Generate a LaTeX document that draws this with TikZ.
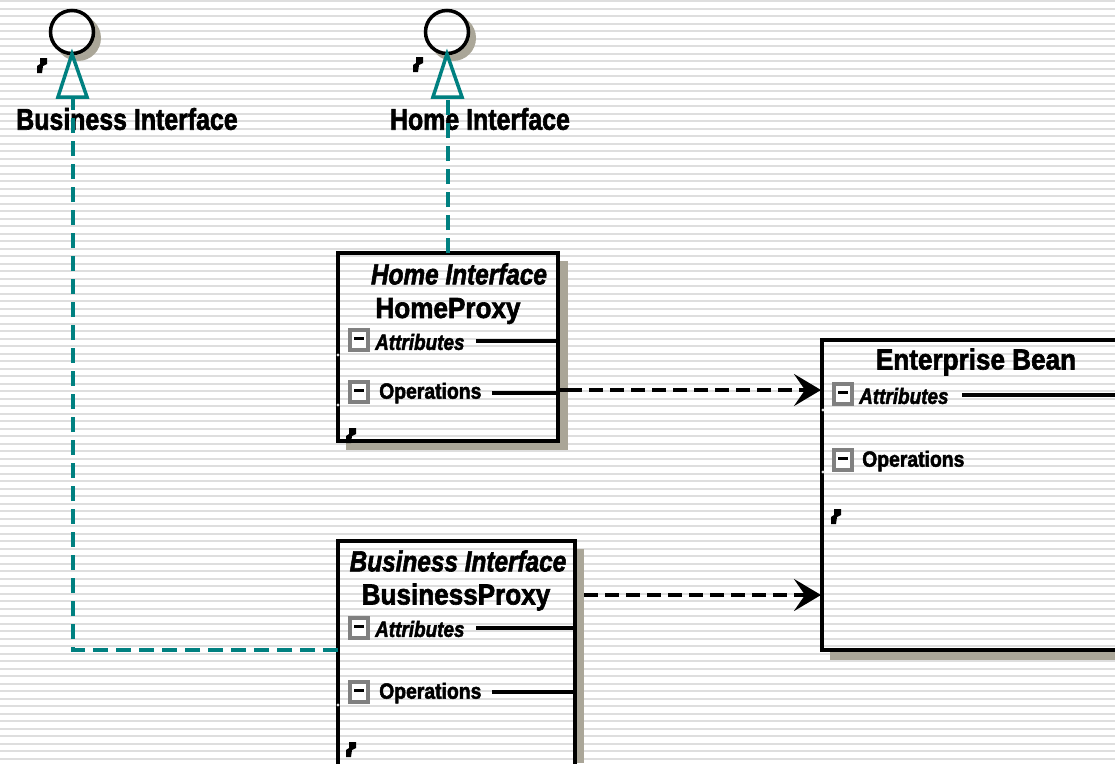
\documentclass[tikz,border=0pt]{standalone}
\usepackage{fontspec}
\setmainfont{Liberation Sans}[BoldFeatures={FakeBold=2.2},BoldItalicFeatures={FakeBold=2.2}]
\usepackage{graphicx}
\usetikzlibrary{arrows.meta}
\definecolor{taupe}{RGB}{170,166,152}
\definecolor{tealc}{RGB}{0,128,128}
\definecolor{icongray}{RGB}{128,128,128}
\definecolor{stripec}{RGB}{222,222,222}
\newcommand\sx[2]{\scalebox{#1}[1]{#2}}
\begin{document}
\begin{tikzpicture}[x=1pt,y=-1pt,
  umlbox/.style={draw=black,line width=3.5pt,inner sep=0pt,outer sep=0pt},
  lbl/.style={inner sep=0pt,font=\fontsize{30}{30}\selectfont\bfseries},
  stereo/.style={inner sep=0pt,font=\fontsize{29}{29}\selectfont\bfseries\itshape},
  ttl/.style={inner sep=0pt,font=\fontsize{29}{29}\selectfont\bfseries},
  attr/.style={inner sep=0pt,anchor=west,font=\fontsize{22}{22}\selectfont\bfseries\itshape},
  oper/.style={inner sep=0pt,anchor=west,font=\fontsize{22}{22}\selectfont\bfseries},
  cline/.style={line width=3.5pt},
  dep/.style={line width=4pt,dash pattern=on 14pt off 7pt,-{Stealth[length=27pt,width=32pt,inset=11pt]}},
  impl/.style={tealc,line width=4pt,dash pattern=on 15pt off 8pt},
  tri/.style={tealc,line width=3.5pt,line join=miter},
  cicon/.pic={\fill[icongray] (-11,-12) rectangle (11,12);
              \fill[white] (-7,-8) rectangle (7,8);
              \fill[black] (-5,-3) rectangle (5,0);},
  umark/.pic={\fill[black] (3,0) -- (10,0) -- (10,6) -- (6,8) -- (5,15) -- (0,15) -- (0,8) -- (3,6) -- cycle;},
  gdot/.style={fill=stripec}
]
\useasboundingbox (0,0) rectangle (1115,763);
\fill[white] (0,0) rectangle (1115,763);
% background stripes
\foreach \i in {0,...,101} {\draw[stripec,line width=2pt] (0,{1+7.5*\i}) -- (1115,{1+7.5*\i});}

% ---------- lollipops ----------
\begin{scope}[even odd rule]
  \clip (0,0) rectangle (1115,763) (72,32) circle (22);
  \fill[taupe] (78,38) circle (23);
\end{scope}
\begin{scope}[even odd rule]
  \clip (0,0) rectangle (1115,763) (447,32) circle (22);
  \fill[taupe] (453,38) circle (23);
\end{scope}
\node[circle,draw=black,line width=3.5pt,minimum size=43pt,inner sep=0pt] (c1) at (72,32) {};
\node[circle,draw=black,line width=3.5pt,minimum size=43pt,inner sep=0pt] (c2) at (447,32) {};
\draw[tri] (72,54) -- (87,97) -- (58,97) -- cycle;
\draw[tri] (447,54) -- (462,97) -- (433,97) -- cycle;
\coordinate (t1) at (73,98);
\coordinate (t2) at (448,98);
\pic at (37,58) {umark};
\pic at (413,57) {umark};
\node[lbl] (l1) at (127,119) {\sx{0.83}{Business Interface}};
\node[lbl] (l2) at (480,119) {\sx{0.83}{Home Interface}};

% ---------- shadows ----------
\fill[taupe] (560,261) rectangle (568,450);
\fill[taupe] (346,443) rectangle (568,450);
\fill[taupe] (577,549) rectangle (584,763);
\fill[taupe] (830,652) rectangle (1115,660);

% ---------- boxes ----------
\node[umlbox,minimum width=220pt,minimum height=188pt] (hp) at (448,347) {};
\node[umlbox,minimum width=237pt,minimum height=240pt] (bp) at (456.5,661) {};
\node[umlbox,minimum width=310pt,minimum height=310pt] (eb) at (977,495) {};

% HomeProxy
\node[stereo] (hps) at (459,274) {\sx{0.84}{Home Interface}};
\node[ttl] (hpt) at (448,311) {\sx{0.9}{HomeProxy}};
\pic at (359,340) {cicon};
\node[attr] (hpa) at (375,342) {\sx{0.86}{Attributes}};
\draw[cline] (476,341) -- (558,341);
\pic at (359,392) {cicon};
\node[oper] (hpo) at (379,393) {\sx{0.88}{Operations}};
\draw[cline] (492,393) -- (558,393);
\pic at (346,428) {umark};
\fill[gdot] (338,355) circle (1.6);
\fill[gdot] (338,405) circle (1.6);

% BusinessProxy
\node[stereo] (bps) at (458,561) {\sx{0.84}{Business Interface}};
\node[ttl] (bpt) at (456,597) {\sx{0.9}{BusinessProxy}};
\pic at (359,628) {cicon};
\node[attr] (bpa) at (375,629) {\sx{0.86}{Attributes}};
\draw[cline] (476,628) -- (575,628);
\pic at (359,692) {cicon};
\node[oper] (bpo) at (379,693) {\sx{0.88}{Operations}};
\draw[cline] (492,692) -- (575,692);
\pic at (346,742) {umark};
\fill[gdot] (338,705) circle (1.6);

% Enterprise Bean
\node[ttl] (ebt) at (976,362) {\sx{0.9}{Enterprise Bean}};
\pic at (843,394) {cicon};
\node[attr] (eba) at (859,396) {\sx{0.86}{Attributes}};
\draw[cline] (962,395) -- (1115,395);
\pic at (843,460) {cicon};
\node[oper] (ebo) at (862,461) {\sx{0.88}{Operations}};
\pic at (831,509) {umark};
\fill[gdot] (823,410) circle (1.6);
\fill[gdot] (823,472) circle (1.6);

% ---------- connectors ----------
\coordinate (hpout) at (568,390);
\coordinate (bpout) at (584,595);
\coordinate (ebin1) at (821,390);
\coordinate (ebin2) at (821,595);
\coordinate (bpin) at (338,650);
\draw[cline] (558,390) -- (hpout);
\draw[dep] (hpout) -- (ebin1);
\draw[dep] (bpout) -- (ebin2);
\draw[impl] (bpin) -| (t1);
\draw[impl] (hp.north) -- (t2);
\end{tikzpicture}
\end{document}
